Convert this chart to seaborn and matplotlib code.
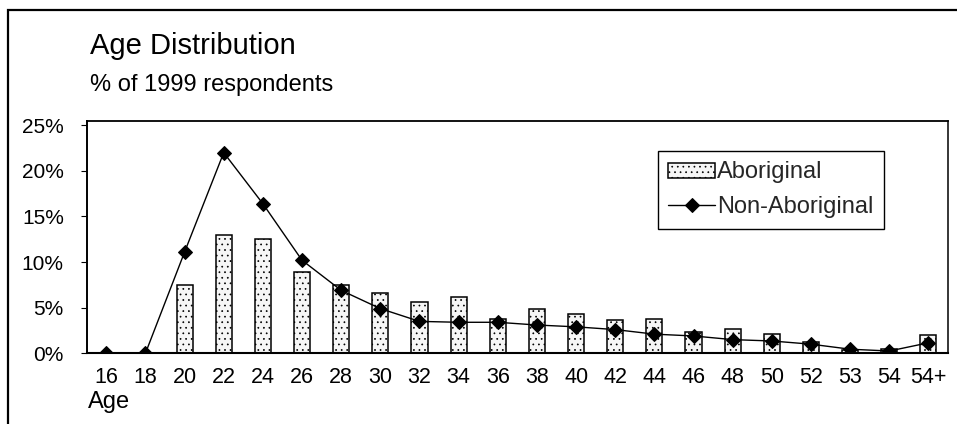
import matplotlib
matplotlib.use("Agg")
import matplotlib.pyplot as plt
import seaborn as sns
import pandas as pd
from matplotlib.ticker import FuncFormatter
from matplotlib.patches import Rectangle

# ---- data ----
ages = ["16", "18", "20", "22", "24", "26", "28", "30", "32", "34", "36",
        "38", "40", "42", "44", "46", "48", "50", "52", "53", "54", "54+"]
aboriginal = [0.0, 0.0, 7.5, 13.0, 12.5, 8.9, 7.5, 6.6, 5.6, 6.2, 3.8,
              4.9, 4.3, 3.6, 3.8, 2.3, 2.7, 2.1, 1.2, 0.4, 0.5, 2.0]
non_aboriginal = [0.0, 0.0, 11.1, 22.0, 16.4, 10.2, 6.9, 4.9, 3.5, 3.4, 3.4,
                  3.1, 2.9, 2.6, 2.1, 1.9, 1.5, 1.35, 1.0, 0.45, 0.25, 1.15]
y_ticks = [0, 5, 10, 15, 20, 25]

title = "Age Distribution"
subtitle = "% of 1999 respondents"
xlabel = "Age"

df = pd.DataFrame({"Age": ages, "Aboriginal": aboriginal,
                   "Non-Aboriginal": non_aboriginal})

sns.set_theme(style="white")
plt.rcParams["font.family"] = ["Liberation Sans", "DejaVu Sans"]
plt.rcParams["hatch.color"] = "#dcdcdc"
plt.rcParams["hatch.linewidth"] = 0.5

W, H = 957, 424
fig = plt.figure(figsize=(W / 100, H / 100), dpi=100)
fig.patch.set_facecolor("white")

ax = fig.add_axes([86.7 / W, 1 - 353.3 / H, 861.3 / W, 232.6 / H])

sns.barplot(data=df, x="Age", y="Aboriginal", order=ages, width=0.41,
            color="#f6f6f6", edgecolor="black", linewidth=1.1,
            saturation=1, label="Aboriginal", ax=ax)
for p in ax.patches:
    p.set_facecolor("#f6f6f6")
    p.set_hatch("...")
    p.set_edgecolor("black")

sns.pointplot(data=df, x="Age", y="Non-Aboriginal", order=ages,
              color="black", markers="D", markersize=7, linewidth=1.0,
              linestyles="-", label="Non-Aboriginal", ax=ax)

ax.set_xlim(-0.5, len(ages) - 0.5)
ax.set_ylim(0, 25.5)
ax.set_yticks(y_ticks)
ax.yaxis.set_major_formatter(FuncFormatter(lambda v, pos: f"{v:.0f}%"))
ax.set_xlabel("")
ax.set_ylabel("")

for s in ["left", "bottom", "top", "right"]:
    ax.spines[s].set_visible(True)
    ax.spines[s].set_color("black")
ax.spines["left"].set_linewidth(1.4)
ax.spines["bottom"].set_linewidth(1.5)
ax.spines["top"].set_linewidth(1.3)
ax.spines["right"].set_linewidth(1.1)

ax.tick_params(axis="y", which="both", left=True, direction="out",
               length=4.5, width=0.8, pad=12, labelsize=15, colors="black")
ax.tick_params(axis="x", bottom=False, length=0, pad=10, labelsize=15.5,
               colors="black")
for lbl in ax.get_yticklabels() + ax.get_xticklabels():
    lbl.set_color("black")

handles, labels = ax.get_legend_handles_labels()
order = [labels.index("Aboriginal"), labels.index("Non-Aboriginal")]
leg = ax.legend([handles[i] for i in order], [labels[i] for i in order],
                loc="upper right", bbox_to_anchor=(0.926, 0.871),
                frameon=True, fancybox=False, framealpha=1, edgecolor="black",
                fontsize=17, handlelength=2.0, handleheight=0.6,
                handletextpad=0.08, borderpad=0.45, labelspacing=0.55,
                borderaxespad=0)
leg.get_frame().set_linewidth(1.0)

fig.text(90 / W, 1 - 54 / H, title, fontsize=21, color="black",
         ha="left", va="baseline")
fig.text(90 / W, 1 - 90.5 / H, subtitle, fontsize=17, color="black",
         ha="left", va="baseline")
fig.text(88 / W, 1 - 408 / H, xlabel, fontsize=17, color="black",
         ha="left", va="baseline")

# outer frame of the chart area
fig.add_artist(Rectangle((8 / W, -0.05), 1.2, 1.05 - 10 / H,
                         transform=fig.transFigure, fill=False,
                         edgecolor="black", linewidth=1.6))

fig.savefig("out.png", dpi=100)
